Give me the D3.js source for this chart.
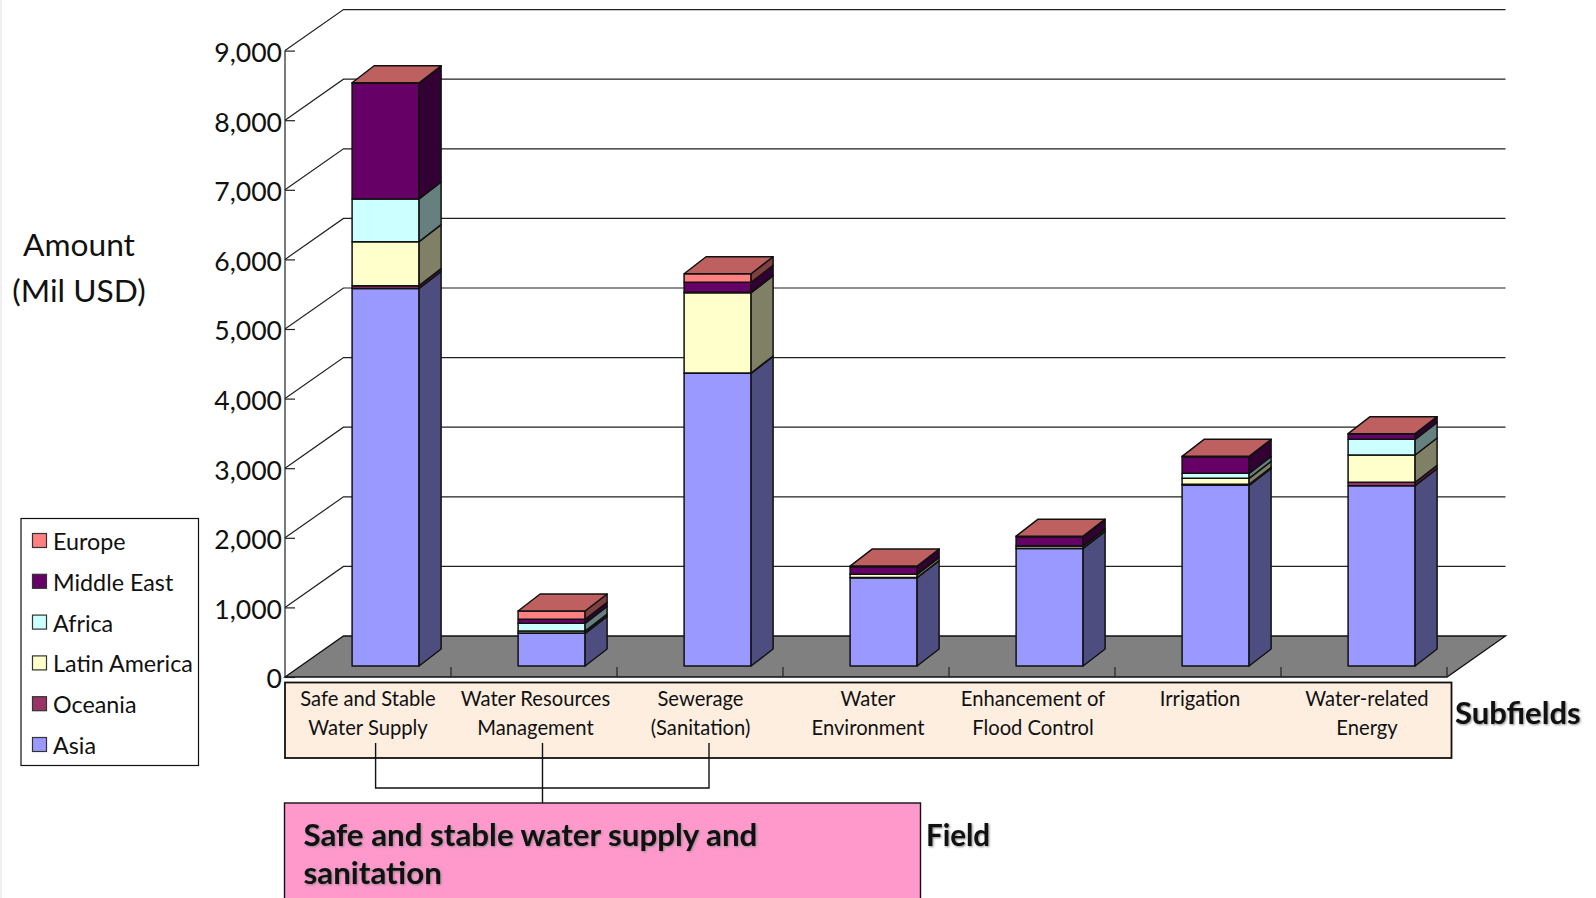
<!DOCTYPE html>
<html><head><meta charset="utf-8">
<script src="https://cdn.jsdelivr.net/npm/d3@7"></script>
<style>
html,body{margin:0;padding:0;background:#fff;overflow:hidden}
svg{display:block}
text{font-family:Lato,"Open Sans",sans-serif;fill:#111}
.shadow{filter:drop-shadow(1.5px 1.5px 1px #888)}
</style></head><body>
<svg id="c" width="1596" height="898"></svg>
<script>
const categories = ["Safe and Stable|Water Supply","Water Resources|Management","Sewerage|(Sanitation)","Water|Environment","Enhancement of|Flood Control","Irrigation","Water-related|Energy"];
const regions = ["Asia","Oceania","Latin America","Africa","Middle East","Europe"];
const asia = [5424,470,4205,1269,1690,2596,2590];
const oceania = [40,5,5,3,3,14,50];
const latinAmerica = [632,28,1154,45,31,87,392];
const africa = [614,110,6,3,3,71,225];
const middleEast = [1662,58,143,107,131,239,76];
const europe = [8,119,123,8,7,5,5];
const seriesValues = [asia,oceania,latinAmerica,africa,middleEast,europe];
const frontColors = ["#9999ff","#993366","#ffffcc","#ccffff","#660066","#ff8080"];
const sideColors = ["#4d4d80","#4d1a33","#808066","#668080","#330033","#804040"];
const topColor = "#bf6060";
const yTicks = [0,1000,2000,3000,4000,5000,6000,7000,8000,9000];

const svg = d3.select("#c");
svg.append("rect").attr("x",0).attr("y",0).attr("width",2).attr("height",898).attr("fill","#f0f0f0");

const y = d3.scaleLinear().domain([0,9000]).range([677,50.6]);
const x = d3.scaleBand().domain(categories).range([285,1447]);
const depth = {dx:58.5,dy:-41};
const barW = 67, sideDx = 22, sideDy = -17;
const barShift = 17.6, baseLift = 11;

// floor
const fl = y(0);
svg.append("polygon").attr("fill","#808080").attr("stroke","#111").attr("stroke-width",1.3)
  .attr("points",[[x.range()[0],fl],[x.range()[0]+depth.dx,fl+depth.dy],[x.range()[1]+depth.dx,fl+depth.dy],[x.range()[1],fl]].join(" "));
// grid + diagonals
const gridTicks = yTicks.filter(d=>d>0);
svg.append("g").selectAll("path").data(gridTicks).join("path")
  .attr("fill","none").attr("stroke","#222").attr("stroke-width",1.2)
  .attr("d",d=>`M${x.range()[0]},${y(d)}L${x.range()[0]+depth.dx},${y(d)+depth.dy}H${x.range()[1]+depth.dx}`);
// floor ticks
svg.append("g").selectAll("line").data(categories).join("line")
  .attr("x1",d=>x(d)+x.bandwidth()).attr("x2",d=>x(d)+x.bandwidth())
  .attr("y1",fl).attr("y2",fl-10).attr("stroke","#222").attr("stroke-width",1.2);
// axis
const axis = d3.axisLeft(y).tickValues(yTicks).tickFormat(d3.format(",")).tickSize(-10).tickSizeOuter(0).tickPadding(3);
const ag = svg.append("g").attr("transform",`translate(${x.range()[0]},0)`).call(axis);
ag.selectAll("path,line").attr("stroke","#222").attr("stroke-width",1.2);
ag.selectAll("text").style("font-size","26.6px").attr("fill","#111").attr("dy","0.41em");
ag.select(".domain").attr("d",`M0,${y(9000)}V${y(0)}`);

// bars
const table = categories.map((c,i)=>{const o={c};regions.forEach((r,j)=>o[r]=seriesValues[j][i]);return o;});
const stacked = d3.stack().keys(regions)(table);
const bx = c=>x(c)+x.bandwidth()/2-barW/2+barShift;
const by = v=>y(v)-baseLift;
const g = svg.append("g").attr("stroke","#111").attr("stroke-width",1.5).attr("stroke-linejoin","round");
stacked.forEach((s,j)=>{
  const lg = g.append("g");
  lg.selectAll(".f").data(s).join("rect")
    .attr("x",d=>bx(d.data.c)).attr("width",barW)
    .attr("y",d=>by(d[1])).attr("height",d=>by(d[0])-by(d[1]))
    .attr("fill",frontColors[j]);
  lg.selectAll(".s").data(s).join("polygon")
    .attr("fill",sideColors[j])
    .attr("points",d=>{const X=bx(d.data.c)+barW;return [[X,by(d[0])],[X+sideDx,by(d[0])+sideDy],[X+sideDx,by(d[1])+sideDy],[X,by(d[1])]].join(" ");});
});
g.selectAll(".top").data(stacked[stacked.length-1]).join("polygon")
  .attr("fill",topColor)
  .attr("points",d=>{const X=bx(d.data.c),Y=by(d[1]);return [[X,Y],[X+sideDx,Y+sideDy],[X+barW+sideDx,Y+sideDy],[X+barW,Y]].join(" ");});

// subfield box
svg.append("rect").attr("x",285).attr("y",682.5).attr("width",1166.5).attr("height",75.5)
  .attr("fill","#feeee0").attr("stroke","#111").attr("stroke-width",1.8);
const labelX = [368,535.5,700.5,868,1033,1200,1367];
categories.forEach((c,i)=>{
  c.split("|").forEach((t,k)=>{
    svg.append("text").attr("x",labelX[i]).attr("y",706+k*28.5).attr("text-anchor","middle")
      .style("font-size","20.2px").text(t);
  });
});
svg.append("text").attr("class","shadow").attr("x",1455).attr("y",723.5).style("font-size","31px").style("font-weight","700").text("Subfields");

// bracket
svg.append("path").attr("fill","none").attr("stroke","#111").attr("stroke-width",1.4)
  .attr("d","M375.6,743V788H709V743M542.5,743V803");
// field
svg.append("rect").attr("x",284.5).attr("y",803).attr("width",636).attr("height",110)
  .attr("fill","#ff99cc").attr("stroke","#111").attr("stroke-width",1.4);
["Safe and stable water supply and","sanitation"].forEach((t,k)=>{
  svg.append("text").attr("class","shadow").attr("x",303.5).attr("y",846+k*38).style("font-size","31.3px").style("font-weight","700").text(t);
});
svg.append("text").attr("class","shadow").attr("x",926).attr("y",846).style("font-size","29.5px").style("font-weight","700").text("Field");

// y title
[["Amount",248],["(Mil USD)",294]].forEach(([t,yy])=>{
  svg.append("text").attr("x",79).attr("y",yy).attr("text-anchor","middle").attr("dominant-baseline","middle").style("font-size","31.7px").text(t);
});

// legend
svg.append("rect").attr("x",21).attr("y",518.5).attr("width",177.5).attr("height",247).attr("fill","#fff").attr("stroke","#111").attr("stroke-width",1.2);
const legendY = d3.scalePoint().domain(regions.slice().reverse()).range([540.5,744.5]);
regions.forEach((r,j)=>{
  svg.append("rect").attr("x",32.5).attr("y",legendY(r)-7).attr("width",14).attr("height",14).attr("fill",frontColors[j]).attr("stroke","#333").attr("stroke-width",1.2);
  svg.append("text").attr("x",53).attr("y",legendY(r)+9.5).style("font-size","23.3px").text(r);
});
</script></body></html>
